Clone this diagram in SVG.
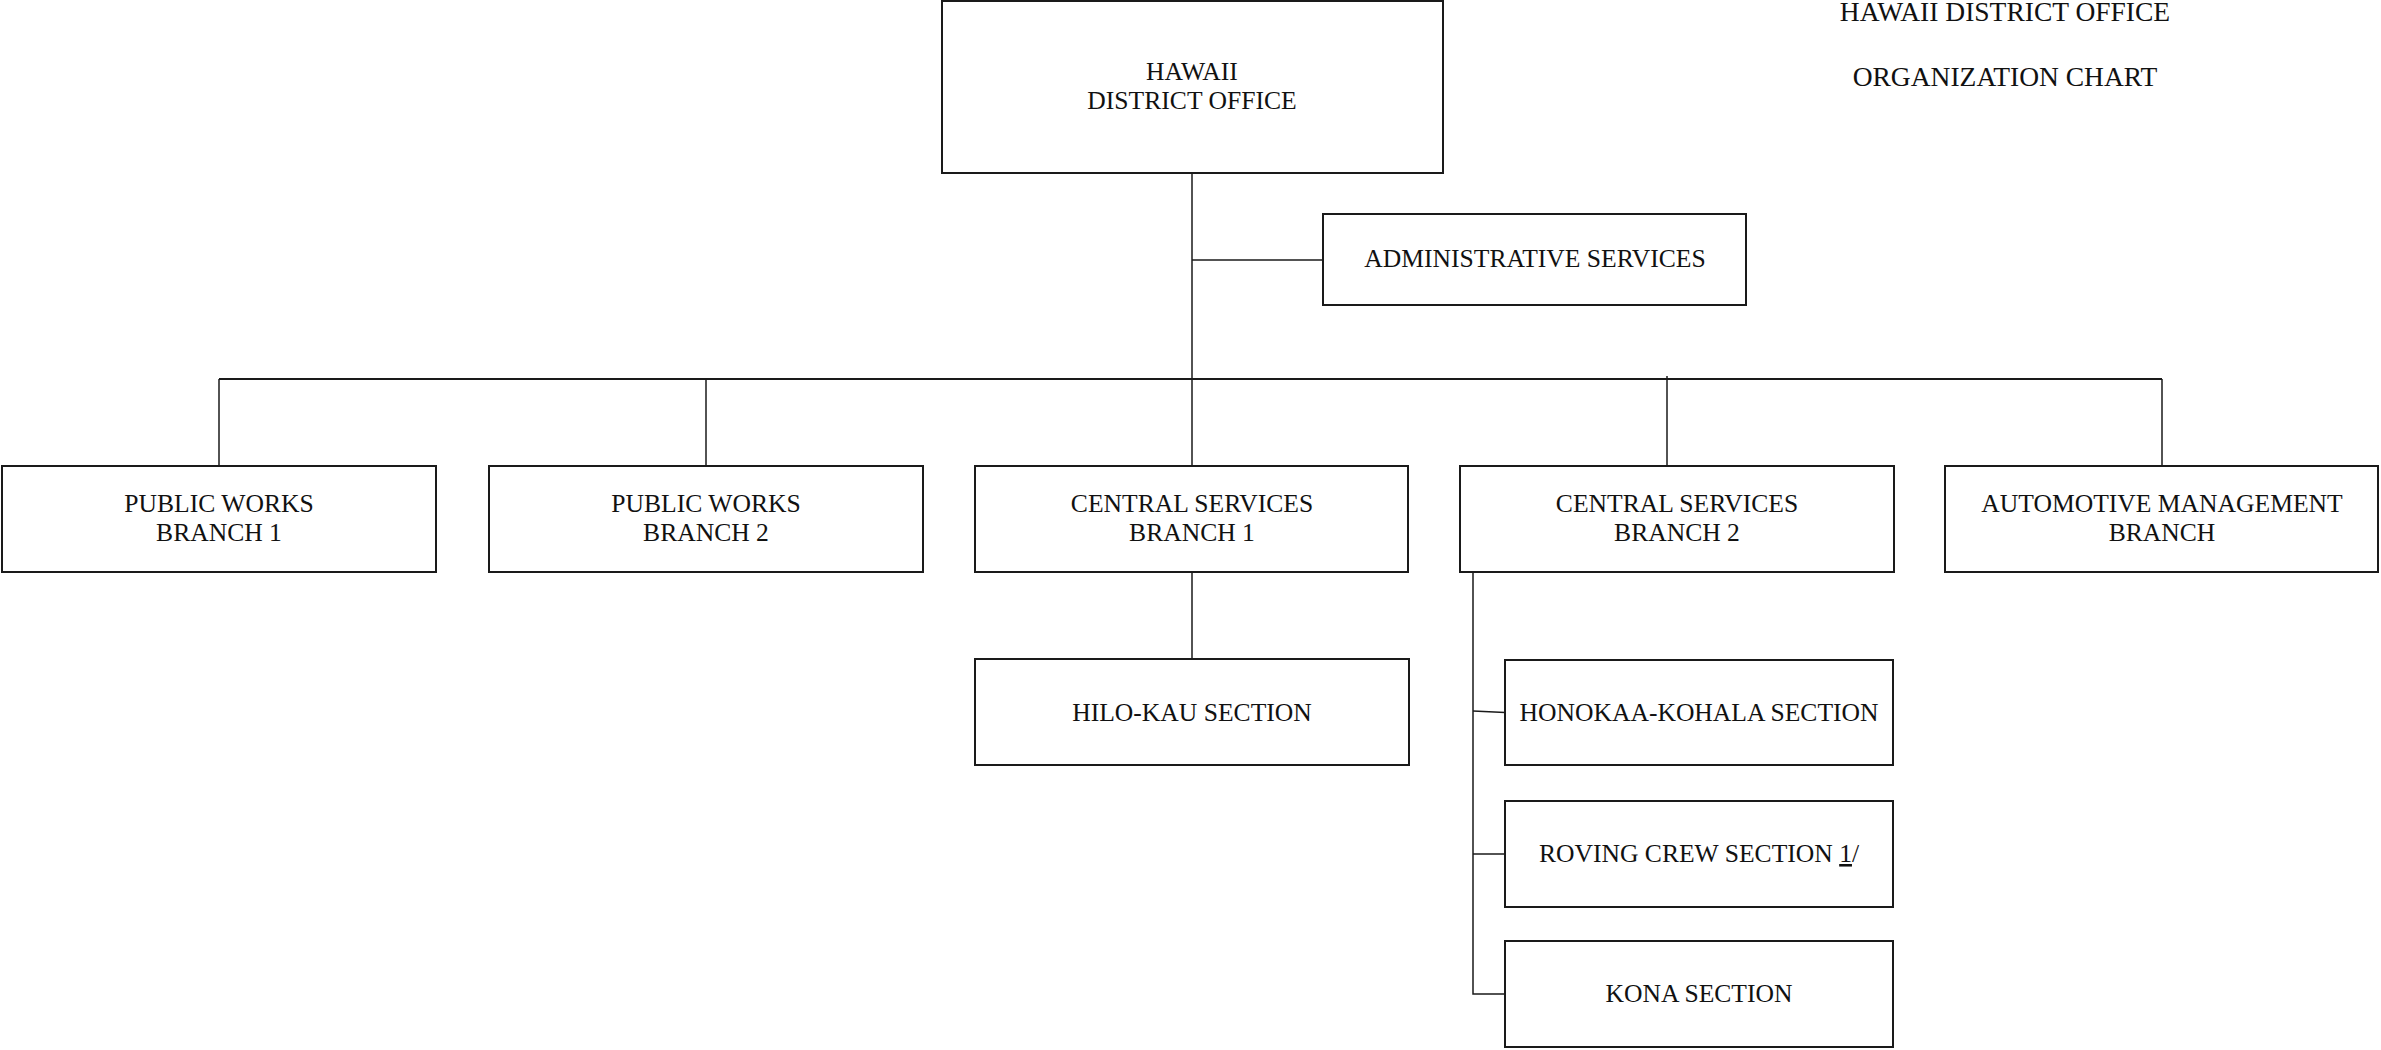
<svg xmlns="http://www.w3.org/2000/svg" width="2381" height="1050" viewBox="0 0 2381 1050">
<style>
.box{fill:#fff;stroke:#1a1a1a;stroke-width:2}
.t{font-family:"Liberation Serif","Times New Roman",serif;font-size:25.6px;fill:#111;text-anchor:middle}
.title{font-family:"Liberation Serif","Times New Roman",serif;font-size:27.5px;fill:#111;text-anchor:middle}
.c{stroke:#1a1a1a;stroke-width:1.5;fill:none}
.bus{stroke:#1a1a1a;stroke-width:2.2;fill:none}
</style>
<rect width="2381" height="1050" fill="#fff"/>
<g id="title">
<text class="title" x="2005" y="21">HAWAII DISTRICT OFFICE</text>
<text class="title" x="2005" y="86">ORGANIZATION CHART</text>
</g>
<g id="connectors">
<line class="c" x1="1192" y1="173" x2="1192" y2="466"/>
<line class="c" x1="1192" y1="260" x2="1323" y2="260"/>
<line class="bus" x1="219" y1="379" x2="2162" y2="379"/>
<line class="c" x1="219" y1="379" x2="219" y2="466"/>
<line class="c" x1="706" y1="379" x2="706" y2="466"/>
<line class="c" x1="1667" y1="376" x2="1667" y2="466"/>
<line class="c" x1="2162" y1="379" x2="2162" y2="466"/>
<line class="c" x1="1192" y1="572" x2="1192" y2="659"/>
<polyline class="c" points="1473,572 1473,994 1505,994"/>
<line class="c" x1="1473" y1="711" x2="1505" y2="712.5"/>
<line class="c" x1="1473" y1="854" x2="1505" y2="854"/>
</g>
<g id="hawaii-district-office">
<rect class="box" x="942" y="1" width="501" height="172"/>
<text class="t" x="1192" y="80">HAWAII</text>
<text class="t" x="1192" y="109">DISTRICT OFFICE</text>
</g>
<g id="administrative-services">
<rect class="box" x="1323" y="214" width="423" height="91"/>
<text class="t" x="1535" y="267">ADMINISTRATIVE SERVICES</text>
</g>
<g id="public-works-1">
<rect class="box" x="2" y="466" width="434" height="106"/>
<text class="t" x="219" y="512">PUBLIC WORKS</text>
<text class="t" x="219" y="541">BRANCH 1</text>
</g>
<g id="public-works-2">
<rect class="box" x="489" y="466" width="434" height="106"/>
<text class="t" x="706" y="512">PUBLIC WORKS</text>
<text class="t" x="706" y="541">BRANCH 2</text>
</g>
<g id="central-services-1">
<rect class="box" x="975" y="466" width="433" height="106"/>
<text class="t" x="1192" y="512">CENTRAL SERVICES</text>
<text class="t" x="1192" y="541">BRANCH 1</text>
</g>
<g id="central-services-2">
<rect class="box" x="1460" y="466" width="434" height="106"/>
<text class="t" x="1677" y="512">CENTRAL SERVICES</text>
<text class="t" x="1677" y="541">BRANCH 2</text>
</g>
<g id="automotive-management">
<rect class="box" x="1945" y="466" width="433" height="106"/>
<text class="t" x="2162" y="512">AUTOMOTIVE MANAGEMENT</text>
<text class="t" x="2162" y="541">BRANCH</text>
</g>
<g id="hilo-kau">
<rect class="box" x="975" y="659" width="434" height="106"/>
<text class="t" x="1192" y="721">HILO-KAU SECTION</text>
</g>
<g id="honokaa-kohala">
<rect class="box" x="1505" y="660" width="388" height="105"/>
<text class="t" x="1699" y="721">HONOKAA-KOHALA SECTION</text>
</g>
<g id="roving-crew">
<rect class="box" x="1505" y="801" width="388" height="106"/>
<text class="t" x="1699" y="862">ROVING CREW SECTION <tspan text-decoration="underline">1</tspan>/</text>
</g>
<g id="kona">
<rect class="box" x="1505" y="941" width="388" height="106"/>
<text class="t" x="1699" y="1002">KONA SECTION</text>
</g>
</svg>
